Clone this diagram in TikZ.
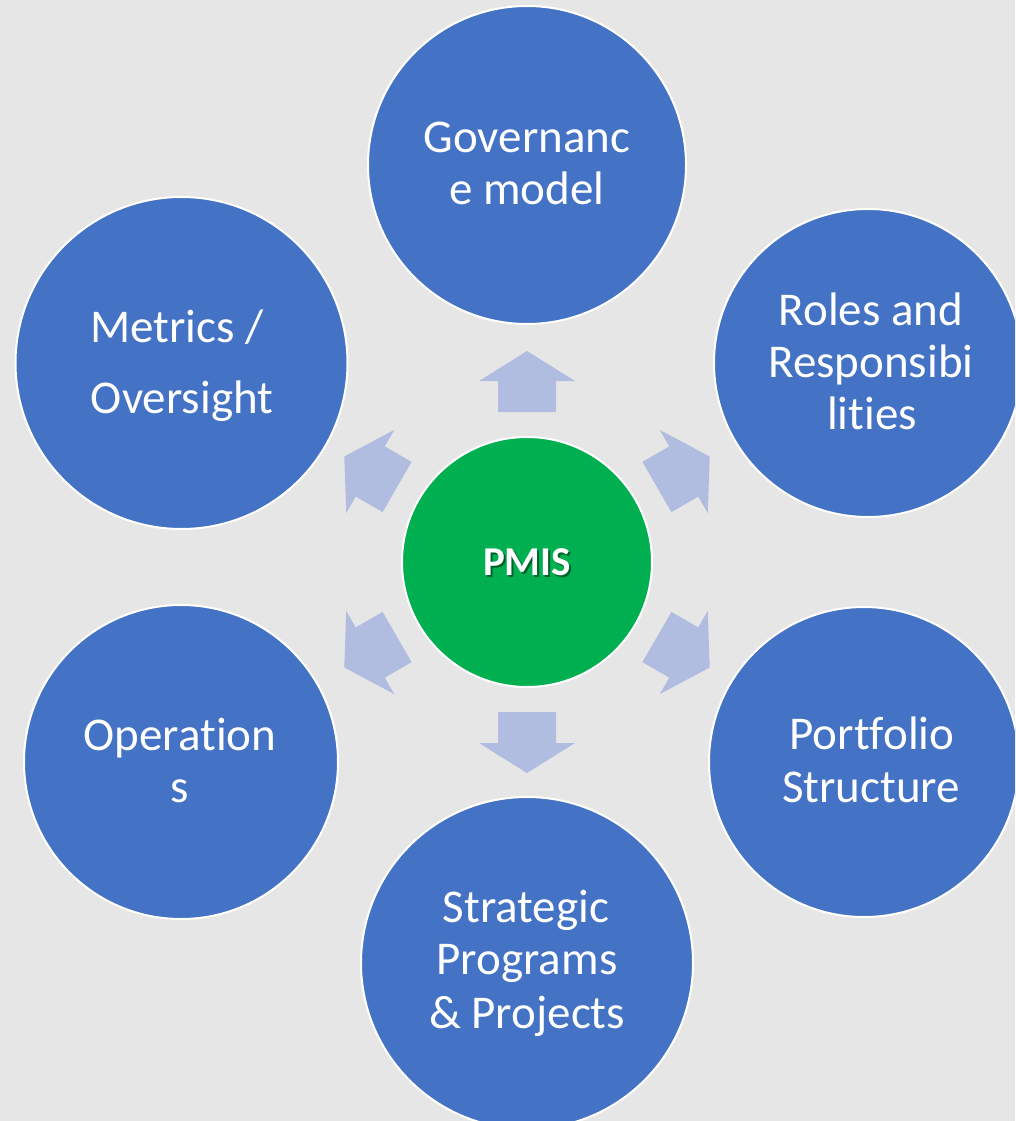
\documentclass[tikz,border=0pt]{standalone}
\usepackage{fontspec}
\setmainfont{Carlito}[Ligatures={NoCommon}]
\definecolor{bgc}{HTML}{E7E6E6}
\definecolor{bluec}{HTML}{4472C4}
\definecolor{greenc}{HTML}{00B050}
\definecolor{arrc}{HTML}{B0BDE0}
\begin{document}
\begin{tikzpicture}[x=1pt,y=-1pt,
  outer/.style={circle, fill=bluec, draw=white, line width=2pt, inner sep=0pt},
  hub/.style={circle, fill=greenc, draw=white, line width=2pt, inner sep=0pt, minimum size=250pt},
  lbl/.style={text=white, font=\fontsize{47}{52}\selectfont, anchor=base, inner sep=0pt},
  blockarrow/.style={fill=arrc, draw=none}]
\useasboundingbox (0,0) rectangle (1015,1121);
\clip (0,0) rectangle (1015,1121);
\fill[bgc] (0,0) rectangle (1015,1121);

% outer circles
\node[outer, minimum size=318pt] (gov) at (527,165) {};
\node[outer, minimum size=308pt] (roles) at (868,363) {};
\node[outer, minimum size=310pt] (port) at (864,762) {};
\node[outer, minimum size=332pt] (strat) at (527,963) {};
\node[outer, minimum size=314pt] (ops) at (181,762) {};
\node[outer, minimum size=332pt] (metr) at (181.5,363) {};

% hub
\node[hub] (pmis) at (527,562) {};

% block arrows
\foreach \ang in {90,30,-30,-90,-150,150}{
  \begin{scope}[shift={(pmis.center)}, rotate=\ang]
    \fill[blockarrow] (150,-29) -- (181,-29) -- (181,-48) -- (211,0) -- (181,48) -- (181,29) -- (150,29) -- cycle;
  \end{scope}
}

% labels
\node[lbl] (gov1) at (527,152) {Governanc};
\node[lbl] (gov2) at (527,204) {e model};

\node[lbl] (met1) at (177,342) {Metrics /};
\node[lbl] (met2) at (182,413) {Oversight};

\node[lbl] (rol1) at (871,325) {Roles and};
\node[lbl] (rol2) at (871,377) {Responsibi};
\node[lbl] (rol3) at (872,429) {lities};

\node[lbl] (por1) at (872,749) {Portfolio};
\node[lbl] (por2) at (871,802) {Structure};

\node[lbl] (ops1) at (180,750) {Operation};
\node[lbl] (ops2) at (180,802) {s};

\node[lbl] (str1) at (526,922) {Strategic};
\node[lbl] (str2) at (527,974) {Programs};
\node[lbl] (str3) at (527,1028) {\& Projects};

% PMIS label with shadow
\node[anchor=base, inner sep=0pt, text=black, opacity=0.45, font=\fontsize{41}{48}\selectfont\bfseries] (pmissh) at (529,577) {PMIS};
\node[anchor=base, inner sep=0pt, text=white, font=\fontsize{41}{48}\selectfont\bfseries] (pmist) at (527,575) {PMIS};
\end{tikzpicture}
\end{document}
